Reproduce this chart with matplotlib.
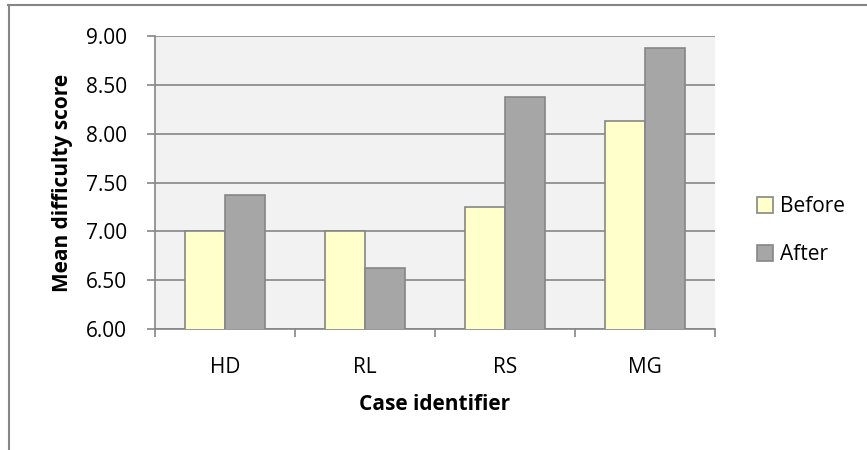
import numpy as np
import matplotlib.pyplot as plt
from matplotlib.lines import Line2D

cases = ["HD", "RL", "RS", "MG"]
before = [7.00, 7.00, 7.25, 8.125]
after = [7.375, 6.625, 8.375, 8.875]
yticks = [6.0, 6.5, 7.0, 7.5, 8.0, 8.5, 9.0]

plt.rcParams['font.family'] = ['Open Sans', 'DejaVu Sans']
fs = 15

fig = plt.figure(figsize=(8.67, 4.5), dpi=100)
ax = fig.add_axes([155 / 867, 1 - 329 / 450, 560 / 867, 293 / 450])

grey = '#868686'
ax.set_facecolor('#F2F2F2')
x = np.arange(len(cases))
w = 0.2857
ax.bar(x - w / 2, before, w, color='#FFFFCC', edgecolor=grey, linewidth=1.2,
       label='Before', zorder=3)
ax.bar(x + w / 2, after, w, color='#A6A6A6', edgecolor=grey, linewidth=1.2,
       label='After', zorder=3)

ax.set_ylim(6, 9)
ax.set_xlim(-0.5, 3.5)
ax.set_yticks(yticks)
ax.set_yticklabels([f"{v:.2f}" for v in yticks], fontsize=fs)
ax.yaxis.grid(True, color=grey, linewidth=1.2, zorder=0)
ax.set_axisbelow(True)

# category ticks at boundaries, labels centred
ax.set_xticks(np.arange(-0.5, 4, 1))
ax.set_xticklabels([])
ax.set_xticks(x, minor=True)
ax.set_xticklabels(cases, minor=True, fontsize=fs)
ax.tick_params(axis='x', which='minor', length=0, pad=20)
ax.tick_params(axis='x', which='major', length=6, color=grey, width=1.2)
ax.tick_params(axis='y', length=6, color=grey, width=1.2, pad=14)

for s in ['top', 'right']:
    ax.spines[s].set_visible(False)
for s in ['left', 'bottom']:
    ax.spines[s].set_color(grey)
    ax.spines[s].set_linewidth(1.2)

ax.set_ylabel("Mean difficulty score", fontsize=fs, fontweight='bold', labelpad=9)
ax.set_xlabel("Case identifier", fontsize=fs, fontweight='bold', labelpad=12)

ax.legend(loc='center left', bbox_to_anchor=(1.075, 0.335), frameon=False,
          fontsize=fs, handlelength=0.75, handleheight=0.75, handletextpad=0.33,
          labelspacing=1.3, borderpad=0, borderaxespad=0)

# outer chart border (top and left visible)
fig.add_artist(Line2D([8 / 867, 866 / 867], [1 - 5 / 450, 1 - 5 / 450], color=grey, linewidth=1.5))
fig.add_artist(Line2D([8.5 / 867, 8.5 / 867], [0, 1 - 5 / 450], color=grey, linewidth=1.5))

fig.savefig("out.png", dpi=100)
